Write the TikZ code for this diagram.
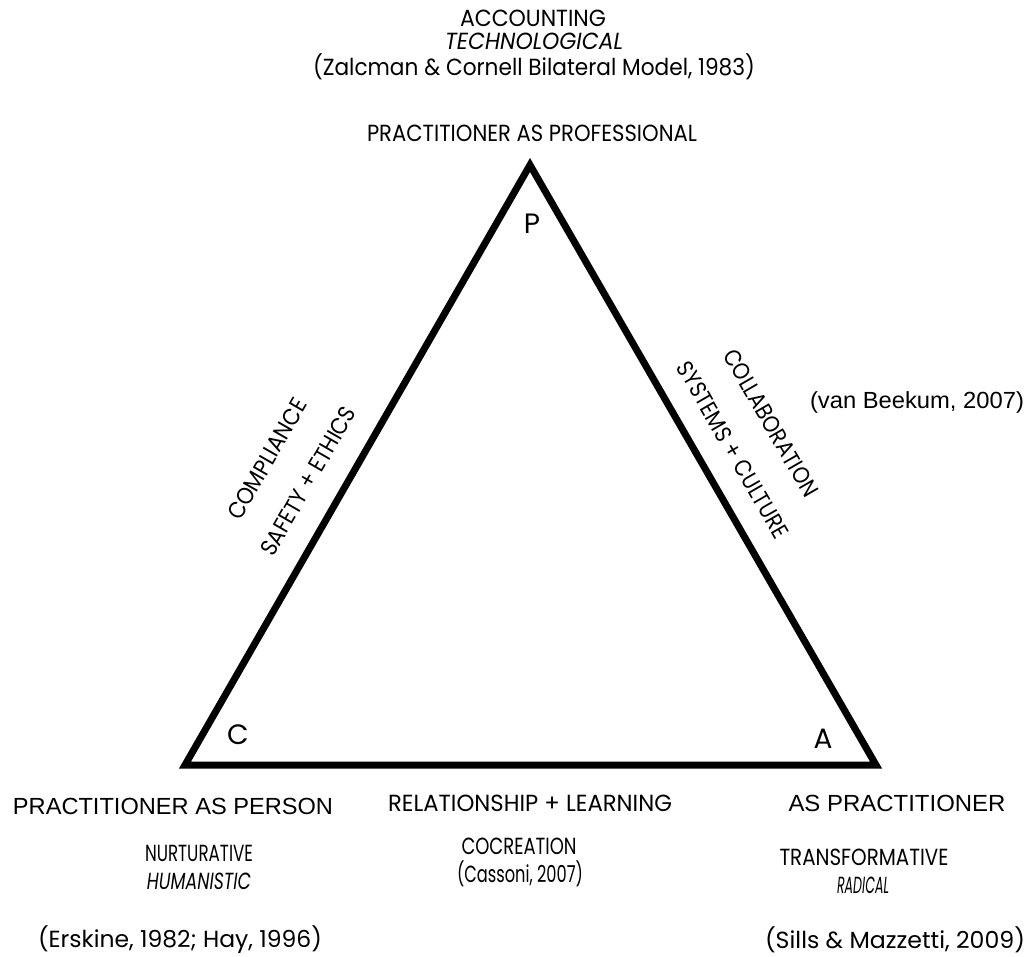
\documentclass[tikz,border=0pt]{standalone}
\usepackage{fontspec}
\setmainfont{Poppins}
\newfontfamily\arialfont{Liberation Sans}
\usepackage{graphicx}
\usepackage{tikz}
\newdimen\pxu \pxu=0.75pt
% squeeze a text to a given width (in px), keep its height
\newcommand{\fitw}[2]{\resizebox{#1\pxu}{\height}{#2}}
\tikzset{lbl/.style={draw=none, fill=none, inner sep=0pt,
  font=\fontsize{17.5}{20}\selectfont},
  arial/.style={font=\arialfont\fontsize{17.5}{20}\selectfont},
  corner/.style={draw=none, inner sep=0pt, font=\fontsize{21}{24}\selectfont}}

\begin{document}
\begin{tikzpicture}[x=0.75pt, y=-0.75pt, every node/.style={lbl}]
  \useasboundingbox (0,0) rectangle (1027,956);
  % triangle
  \coordinate (p) at (530,165);
  \coordinate (c) at (185,765);
  \coordinate (a) at (876,765);
  \draw[line width=5.25pt, line join=miter] (p) -- (a) -- (c) -- cycle;
  \node[corner] (pl) at (532,224) {P};
  \node[corner] (cl) at (238,735) {C};
  \node[corner] (al) at (823,739) {A};
  % top
  \node (acc)  at (533,18)  {\fitw{146}{ACCOUNTING}};
  \node (tech) at (534,41)  {\fitw{178}{\itshape TECHNOLOGICAL}};
  \node (zal)  at (534,67)  {\fitw{442}{(Zalcman \& Cornell Bilateral Model, 1983)}};
  \node (prof) at (532,133) {\fitw{330}{PRACTITIONER AS PROFESSIONAL}};
  % sides
  \node[rotate=60] (comp)  at (267,459) {\fitw{136}{COMPLIANCE}};
  \node[rotate=60] (safe)  at (308,481) {\fitw{168}{SAFETY + ETHICS}};
  \node[rotate=-60] (coll) at (771,423) {\fitw{166}{COLLABORATION}};
  \node[rotate=-60] (sys)  at (733,450) {\fitw{200}{SYSTEMS + CULTURE}};
  \node[arial] (beek) at (917,402) {\fitw{214}{(van Beekum, 2007)}};
  % bottom
  \node[arial] (pers) at (173,806) {\fitw{320}{PRACTITIONER AS PERSON}};
  \node (rel)  at (530,803) {\fitw{284}{RELATIONSHIP + LEARNING}};
  \node[arial] (asp)  at (897,803) {\fitw{217}{AS PRACTITIONER}};
  \node (nurt) at (199,853) {\fitw{108}{NURTURATIVE}};
  \node (hum)  at (199,881) {\fitw{104}{\itshape HUMANISTIC}};
  \node (cocr) at (519,846) {\fitw{115}{COCREATION}};
  \node (cass) at (520,874) {\fitw{126}{(Cassoni, 2007)}};
  \node (trans) at (864,857) {\fitw{169}{TRANSFORMATIVE}};
  \node (rad)  at (863,885) {\fitw{52}{\itshape RADICAL}};
  \node (ersk) at (180,940) {\fitw{284}{(Erskine, 1982; Hay, 1996)}};
  \node (sills) at (895,940) {\fitw{260}{(Sills \& Mazzetti, 2009)}};
\end{tikzpicture}
\end{document}
